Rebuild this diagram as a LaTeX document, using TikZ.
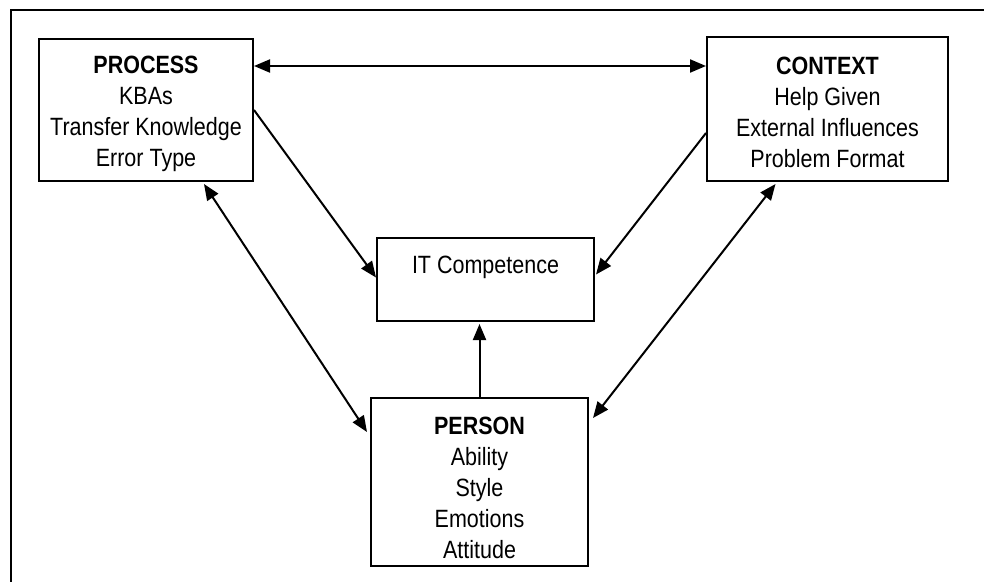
\documentclass[tikz,border=0pt]{standalone}
\usepackage{fontspec}
\setmainfont{Liberation Sans}[FakeStretch=0.86]
\usetikzlibrary{arrows.meta}
\begin{document}
\begin{tikzpicture}[x=1pt,y=-1pt,
  box/.style={draw=black,line width=2pt,inner sep=0pt},
  lbl/.style={inner sep=0pt,align=center,font=\fontsize{25}{31}\selectfont},
  conn/.style={line width=2pt,-{Triangle[length=16pt,width=13pt]}},
  dbl/.style={line width=2pt,{Triangle[length=16pt,width=13pt]}-{Triangle[length=16pt,width=13pt]}}]
\useasboundingbox (0,0) rectangle (984,581);
\fill[white] (0,0) rectangle (984,581);
\draw[line width=2pt] (11,582) -- (11,10) -- (985,10);
\node[box,minimum width=214pt,minimum height=142pt] (proc) at (146,110) {};
\node[lbl] (procl) at (146,114)
  {{\bfseries PROCESS}\\KBAs\\Transfer Knowledge\\Error Type};
\node[box,minimum width=241pt,minimum height=144pt] (ctx) at (827.5,109) {};
\node[lbl] (ctxl) at (827.5,112)
  {{\bfseries CONTEXT}\\Help Given\\External Influences\\Problem Format};
\node[box,minimum width=217pt,minimum height=83pt] (it) at (485.5,279.5) {};
\node[lbl,anchor=base] (itl) at (485.5,273) {IT Competence};
\node[box,minimum width=217pt,minimum height=168pt] (pers) at (479.5,482) {};
\node[lbl] (persl) at (479.5,488)
  {{\bfseries PERSON}\\Ability\\Style\\Emotions\\Attitude};
\draw[dbl] ([yshift=44pt]proc.east) -- ([yshift=43pt]ctx.west);
\draw[conn] (proc.east) -- ([yshift=2pt]it.west);
\draw[conn] ([yshift=-24pt]ctx.west) -- ([yshift=5pt,xshift=1pt]it.east);
\draw[conn] (pers.north) -- ([xshift=-6pt,yshift=-2pt]it.south);
\draw[dbl] ([xshift=58pt,yshift=-2pt]proc.south) -- ([yshift=50pt,xshift=-3pt]pers.west);
\draw[dbl] ([xshift=-52pt,yshift=-2pt]ctx.south) -- ([yshift=64pt,xshift=4pt]pers.east);
\end{tikzpicture}
\end{document}
